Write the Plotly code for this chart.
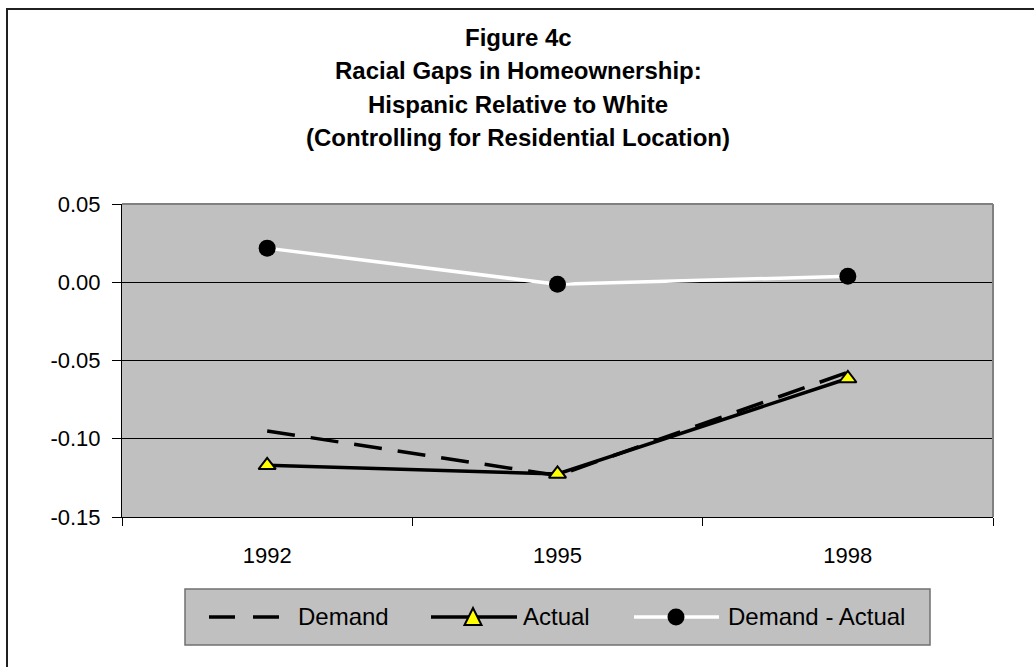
import plotly.graph_objects as go

years = ["1992", "1995", "1998"]
demand = [-0.095, -0.1235, -0.0575]
actual = [-0.117, -0.1225, -0.0615]
demand_minus_actual = [0.0218, -0.0013, 0.0038]
y_ticks = [0.05, 0.0, -0.05, -0.10, -0.15]
y_tick_labels = ["0.05", "0.00", "-0.05", "-0.10", "-0.15"]
series_names = ["Demand", "Actual", "Demand - Actual"]
title_lines = ["Figure 4c", "Racial Gaps in Homeownership:", "Hispanic Relative to White",
               "(Controlling for Residential Location)"]

FONT = "Arial, Liberation Sans, sans-serif"

W, H = 1034, 667
L, R, T, B = 122, 993, 204, 517


def py2p(py):
    return (B - py) / (B - T)


def px2p(px):
    return (px - L) / (R - L)


fig = go.Figure()
fig.add_trace(go.Scatter(x=years, y=demand, name=series_names[0], mode="lines",
                         line=dict(color="black", width=3.5, dash="28px,16px")))
fig.add_trace(go.Scatter(x=years, y=actual, name=series_names[1], mode="lines+markers",
                         line=dict(color="black", width=3.5),
                         marker=dict(symbol="triangle-up", size=15, color="#FFFF00",
                                     line=dict(color="black", width=2))))
fig.add_trace(go.Scatter(x=years, y=demand_minus_actual, name=series_names[2],
                         mode="lines+markers",
                         line=dict(color="white", width=3.5),
                         marker=dict(symbol="circle", size=17, color="black",
                                     line=dict(color="black", width=0))))

title_y = [37, 71, 104, 137]
for txt, py in zip(title_lines, title_y):
    fig.add_annotation(text="<b>" + txt + "</b>", xref="paper", yref="paper",
                       x=px2p(518), y=py2p(py), showarrow=False,
                       xanchor="center", yanchor="middle",
                       font=dict(family=FONT, size=24, color="black"))

shapes = []
# outer frame (only left and top visible)
shapes.append(dict(type="rect", xref="paper", yref="paper",
                   x0=px2p(7), x1=px2p(1080), y0=py2p(720), y1=py2p(9),
                   line=dict(color="#202020", width=2), layer="below"))
# plot area top/right border (grey)
shapes.append(dict(type="line", xref="paper", yref="paper", x0=0, x1=1, y0=1, y1=1,
                   line=dict(color="#808080", width=2), layer="above"))
shapes.append(dict(type="line", xref="paper", yref="paper", x0=1, x1=1, y0=0, y1=1,
                   line=dict(color="#808080", width=2), layer="above"))

# manual legend
LG_L, LG_R, LG_T, LG_B = 185, 930, 589, 645
ly = 617
shapes.append(dict(type="rect", xref="paper", yref="paper",
                   x0=px2p(LG_L), x1=px2p(LG_R), y0=py2p(LG_B), y1=py2p(LG_T),
                   fillcolor="#C0C0C0", line=dict(color="#707070", width=1.5)))
# Demand sample
shapes.append(dict(type="line", xref="paper", yref="paper",
                   x0=px2p(209), x1=px2p(281), y0=py2p(ly), y1=py2p(ly),
                   line=dict(color="black", width=3.5, dash="26px,18px")))
# Actual sample
shapes.append(dict(type="line", xref="paper", yref="paper",
                   x0=px2p(431), x1=px2p(517), y0=py2p(ly), y1=py2p(ly),
                   line=dict(color="black", width=3.5)))
tx, th = 473, 8.5
shapes.append(dict(type="path", xref="paper", yref="paper",
                   path="M {},{} L {},{} L {},{} Z".format(
                       px2p(tx - th), py2p(ly + 8), px2p(tx + th), py2p(ly + 8),
                       px2p(tx), py2p(ly - 9)),
                   fillcolor="#FFFF00", line=dict(color="black", width=2)))
# Demand - Actual sample
shapes.append(dict(type="line", xref="paper", yref="paper",
                   x0=px2p(634), x1=px2p(719), y0=py2p(ly), y1=py2p(ly),
                   line=dict(color="white", width=3.5)))
cx, cr = 676, 8.5
shapes.append(dict(type="circle", xref="paper", yref="paper",
                   x0=px2p(cx - cr), x1=px2p(cx + cr), y0=py2p(ly + cr), y1=py2p(ly - cr),
                   fillcolor="black", line=dict(color="black", width=0)))

for name, px in zip(series_names, [296, 521, 726]):
    fig.add_annotation(text=name, xref="paper", yref="paper", x=px2p(px), y=py2p(ly - 1),
                       showarrow=False, xanchor="left", yanchor="middle",
                       font=dict(family=FONT, size=24, color="black"))

fig.update_layout(
    width=W, height=H,
    margin=dict(l=L, r=W - R, t=T, b=H - B),
    paper_bgcolor="white", plot_bgcolor="#C0C0C0",
    font=dict(family=FONT, size=22, color="black"),
    showlegend=False,
    shapes=shapes,
)
fig.update_xaxes(type="category", range=[-0.5, 2.5], tickson="boundaries",
                 ticks="outside", ticklen=8, tickcolor="black", showline=True,
                 linecolor="black", linewidth=1, showgrid=False,
                 tickfont=dict(size=22), ticklabelstandoff=19)
fig.update_yaxes(range=[-0.15, 0.05], tickvals=y_ticks, ticktext=y_tick_labels,
                 ticks="outside", ticklen=9, tickcolor="black", showline=True,
                 linecolor="black", linewidth=1, showgrid=True, gridcolor="black",
                 gridwidth=1, zeroline=False, tickfont=dict(size=22),
                 ticklabelstandoff=7)

fig.write_html("out.html")
